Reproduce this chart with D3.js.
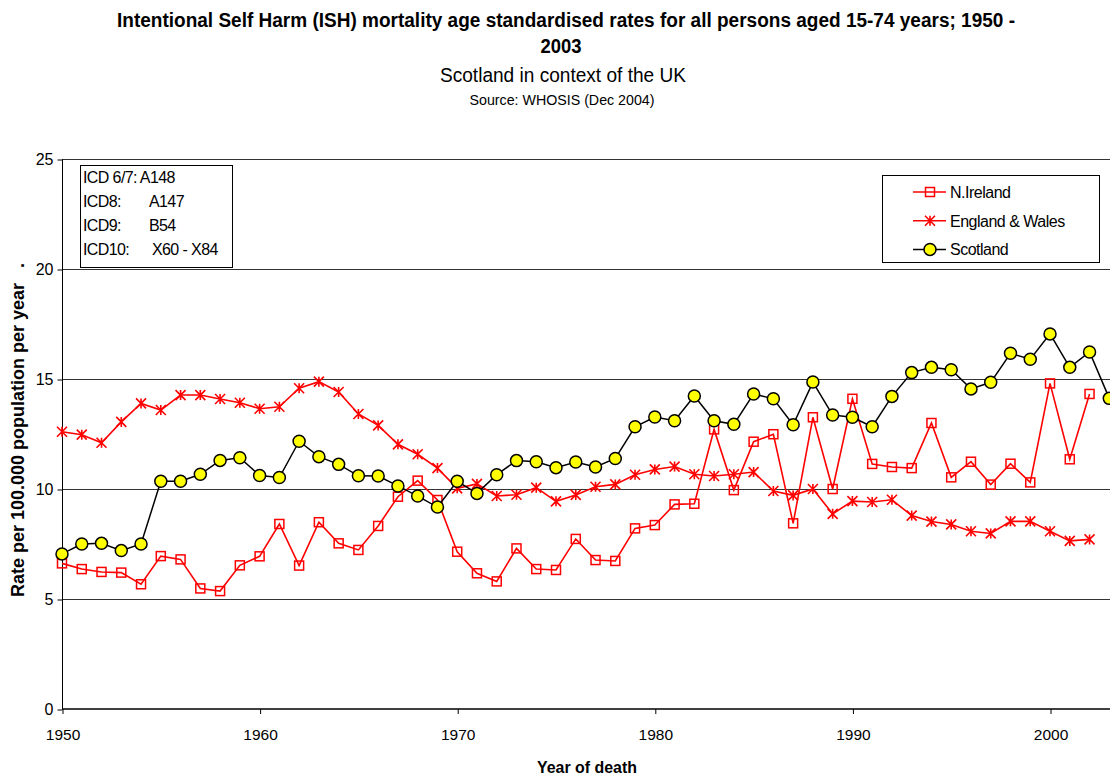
<!DOCTYPE html>
<html>
<head>
<meta charset="utf-8">
<script src="https://cdn.jsdelivr.net/npm/d3@7"></script>
<style>
  html, body { margin: 0; padding: 0; background: #fff; }
  svg { display: block; }
  text { font-family: "Liberation Sans", Arial, sans-serif; fill: #000; }
</style>
</head>
<body>
<svg id="chart" width="1110" height="782"></svg>
<script>
// ---------- data ----------
const years = d3.range(1950, 2004);

const nIreland = [
  6.62, 6.36, 6.23, 6.2, 5.67, 6.95, 6.8, 5.48, 5.36, 6.53,
  6.94, 8.41, 6.52, 8.49, 7.53, 7.23, 8.32, 9.65, 10.38, 9.5,
  7.15, 6.17, 5.8, 7.3, 6.36, 6.32, 7.73, 6.77, 6.73, 8.21,
  8.36, 9.3, 9.33, 12.71, 9.95, 12.15, 12.49, 8.44, 13.26, 10.0,
  14.1, 11.14, 11.0, 10.95, 13.0, 10.53, 11.24, 10.2, 11.15, 10.3,
  14.8, 11.35, 14.32, null
];

const englandWales = [
  12.6, 12.47, 12.1, 13.05, 13.89, 13.59, 14.27, 14.27, 14.09, 13.92,
  13.65, 13.74, 14.58, 14.88, 14.41, 13.41, 12.89, 12.03, 11.58, 10.95,
  10.03, 10.23, 9.68, 9.74, 10.06, 9.44, 9.73, 10.1, 10.21, 10.65,
  10.89, 11.02, 10.67, 10.59, 10.67, 10.77, 9.91, 9.71, 10.0, 8.87,
  9.45, 9.41, 9.51, 8.79, 8.52, 8.39, 8.08, 7.98, 8.53, 8.53,
  8.08, 7.64, 7.71, null
];

const scotland = [
  7.05, 7.5, 7.53, 7.2, 7.5, 10.35, 10.35, 10.67, 11.3, 11.42,
  10.61, 10.52, 12.17, 11.47, 11.12, 10.6, 10.59, 10.14, 9.68, 9.18,
  10.35, 9.8, 10.65, 11.29, 11.24, 10.97, 11.23, 11.0, 11.39, 12.83,
  13.27, 13.1, 14.23, 13.1, 12.94, 14.32, 14.1, 12.92, 14.86, 13.36,
  13.26, 12.83, 14.21, 15.29, 15.53, 15.42, 14.55, 14.85, 16.17, 15.9,
  17.05, 15.53, 16.23, 14.12
];

const seriesNames = ["N.Ireland", "England & Wales", "Scotland"];
const xTicks = [1950, 1960, 1970, 1980, 1990, 2000];
const yTicks = [0, 5, 10, 15, 20, 25];
const icdLines = [
  ["ICD 6/7: A148", ""],
  ["ICD8:", "A147"],
  ["ICD9:", "B54"],
  ["ICD10:", "X60 - X84"]
];
const titleLines = [
  "Intentional Self Harm (ISH) mortality age standardised rates for all persons aged 15-74 years; 1950 -",
  "2003"
];
const subtitle = "Scotland in context of the UK";
const source = "Source: WHOSIS (Dec 2004)";
const xLabel = "Year of death";
const yLabel = "Rate per 100.000 population per year   .";

// ---------- layout ----------
const svg = d3.select("#chart");
const x = d3.scaleLinear().domain([1950, 2003]).range([62, 1109.3]);
const y = d3.scaleLinear().domain([0, 25]).range([709, 159]);

// titles
svg.append("text").attr("x", 566).attr("y", 27).attr("text-anchor", "middle")
  .attr("font-size", 19.5).attr("font-weight", "bold")
  .attr("textLength", 898).attr("lengthAdjust", "spacingAndGlyphs")
  .text(titleLines[0]);
svg.append("text").attr("x", 561).attr("y", 53).attr("text-anchor", "middle")
  .attr("font-size", 19.5).attr("font-weight", "bold")
  .attr("textLength", 41).attr("lengthAdjust", "spacingAndGlyphs")
  .text(titleLines[1]);
svg.append("text").attr("x", 563).attr("y", 82).attr("text-anchor", "middle")
  .attr("font-size", 20.5)
  .attr("textLength", 246).attr("lengthAdjust", "spacingAndGlyphs")
  .text(subtitle);
svg.append("text").attr("x", 562).attr("y", 105).attr("text-anchor", "middle")
  .attr("font-size", 14)
  .attr("textLength", 185).attr("lengthAdjust", "spacingAndGlyphs")
  .text(source);

// gridlines
svg.append("g").selectAll("line").data(yTicks.filter(d => d > 0)).join("line")
  .attr("x1", 62).attr("x2", 1110)
  .attr("y1", d => Math.round(y(d)) + 0.5).attr("y2", d => Math.round(y(d)) + 0.5)
  .attr("stroke", "#333").attr("stroke-width", 1);

// axes
const yAxis = d3.axisLeft(y).tickValues(yTicks).tickSize(5).tickPadding(4);
const gy = svg.append("g").attr("transform", "translate(62.5,0.5)").call(yAxis);
gy.select(".domain").attr("stroke", "#000").attr("d", `M0,${y(25)}V${y(0)}`);
gy.selectAll(".tick line").attr("stroke", "#000");
gy.selectAll(".tick text").attr("font-size", 16).attr("font-family", "Liberation Sans, Arial, sans-serif").attr("fill", "#000");

const xAxis = d3.axisBottom(x).tickValues(xTicks).tickFormat(d3.format("d")).tickSize(5).tickPadding(15);
const gx = svg.append("g").attr("transform", "translate(0.5,709)").call(xAxis);
gx.select(".domain").attr("stroke", "#000").attr("stroke-width", 1.5).attr("d", `M${x(1950)},0H1110`);
gx.selectAll(".tick line").attr("stroke", "#000");
gx.selectAll(".tick text").attr("font-size", 15.5).attr("font-family", "Liberation Sans, Arial, sans-serif").attr("fill", "#000");

// axis titles
svg.append("text").attr("x", 587).attr("y", 773).attr("text-anchor", "middle")
  .attr("font-size", 16).attr("font-weight", "bold")
  .attr("textLength", 100).attr("lengthAdjust", "spacingAndGlyphs")
  .text(xLabel);
svg.append("text").attr("transform", "translate(24,430) rotate(-90)")
  .attr("text-anchor", "middle").attr("font-size", 18).attr("font-weight", "bold")
  .style("white-space", "pre").attr("xml:space", "preserve")
  .text(yLabel);

// ---------- marker helpers ----------
function drawSquare(g, cx, cy) {
  g.append("rect").attr("x", cx - 4.5).attr("y", cy - 4.5).attr("width", 9).attr("height", 9)
    .attr("fill", "none").attr("stroke", "#ff0000").attr("stroke-width", 1.5);
}
function drawStar(g, cx, cy) {
  const s = 5;
  g.append("path")
    .attr("d", `M${cx},${cy - s}V${cy + s}M${cx - s},${cy - s}L${cx + s},${cy + s}M${cx - s},${cy + s}L${cx + s},${cy - s}`)
    .attr("stroke", "#ff0000").attr("stroke-width", 1.6).attr("fill", "none");
}
function drawCircle(g, cx, cy) {
  g.append("circle").attr("cx", cx).attr("cy", cy).attr("r", 6)
    .attr("fill", "#ffff00").attr("stroke", "#000").attr("stroke-width", 1.5);
}

const series = [
  { name: seriesNames[0], values: nIreland, color: "#ff0000", width: 1.6, marker: drawSquare },
  { name: seriesNames[1], values: englandWales, color: "#ff0000", width: 1.6, marker: drawStar },
  { name: seriesNames[2], values: scotland, color: "#000000", width: 1.5, marker: drawCircle }
];

const line = d3.line()
  .defined(d => d.v != null)
  .x(d => x(d.year)).y(d => y(d.v));

series.forEach(s => {
  const pts = years.map((yr, i) => ({ year: yr, v: s.values[i] }));
  const g = svg.append("g");
  g.append("path").datum(pts).attr("d", line)
    .attr("fill", "none").attr("stroke", s.color).attr("stroke-width", s.width);
  pts.filter(p => p.v != null).forEach(p => s.marker(g, x(p.year), y(p.v)));
});

// ---------- ICD box ----------
const icd = svg.append("g");
icd.append("rect").attr("x", 80.5).attr("y", 165.5).attr("width", 152).attr("height", 102)
  .attr("fill", "#fff").attr("stroke", "#000").attr("stroke-width", 1);
icdLines.forEach((l, i) => {
  const by = 182.5 + i * 24;
  icd.append("text").attr("x", 83).attr("y", by).attr("font-size", 16)
    .attr("letter-spacing", "-0.6").text(l[0]);
  if (l[1]) {
    icd.append("text").attr("x", i === 3 ? 152 : 149).attr("y", by).attr("font-size", 16)
      .attr("letter-spacing", "-0.6").text(l[1]);
  }
});

// ---------- legend ----------
const leg = svg.append("g");
leg.append("rect").attr("x", 882.5).attr("y", 175.5).attr("width", 217).attr("height", 87)
  .attr("fill", "#fff").attr("stroke", "#000").attr("stroke-width", 1);
series.forEach((s, i) => {
  const ly = 192 + i * 28.7;
  leg.append("line").attr("x1", 913).attr("x2", 946).attr("y1", ly).attr("y2", ly)
    .attr("stroke", s.color).attr("stroke-width", s.width);
  s.marker(leg, 930, ly);
  leg.append("text").attr("x", 950).attr("y", ly + 6).attr("font-size", 16)
    .attr("letter-spacing", "-0.5").text(s.name);
});
</script>
</body>
</html>
